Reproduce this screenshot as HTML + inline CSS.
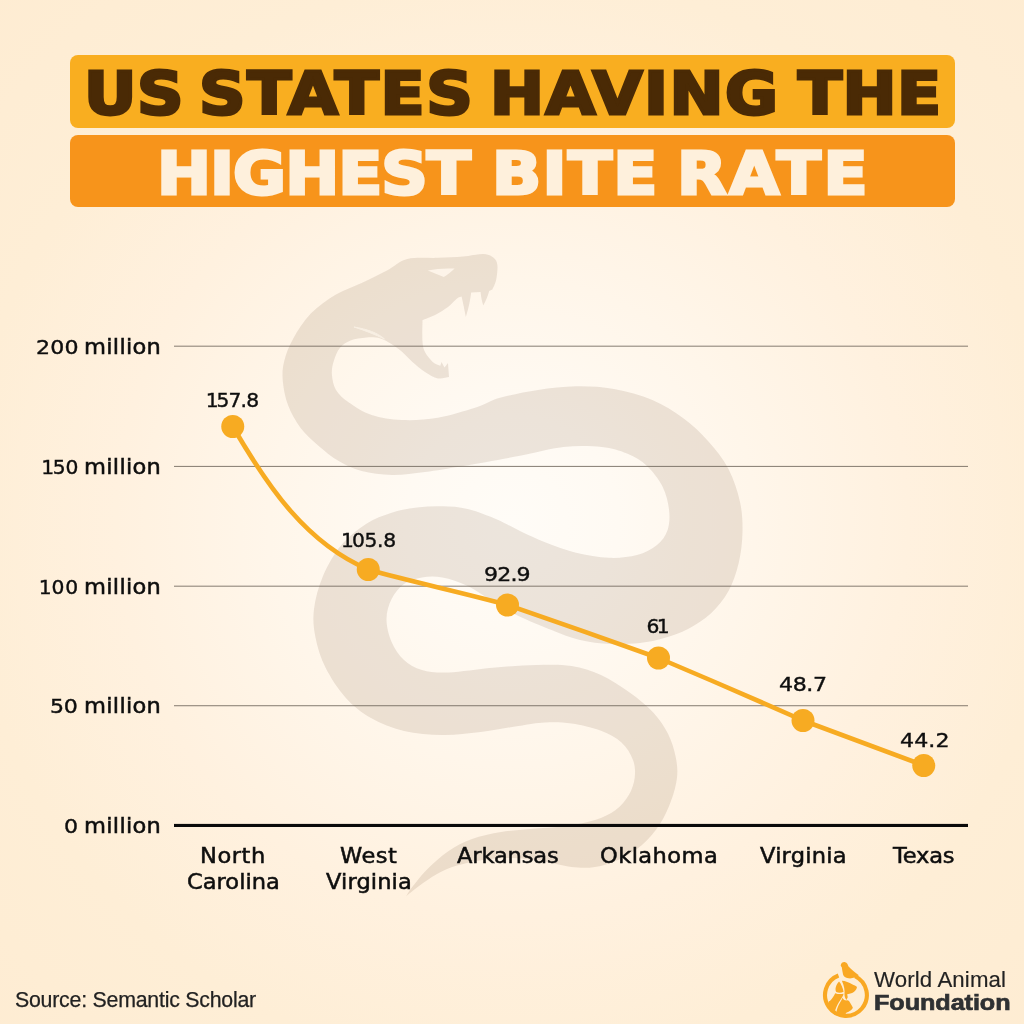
<!DOCTYPE html><html lang="en"><head><meta charset="utf-8"><title>US States Having the Highest Bite Rate</title><style>
*{margin:0;padding:0;box-sizing:border-box}
html,body{width:1024px;height:1024px;overflow:hidden}
body{background:#feeed6;font-family:"DejaVu Sans","Liberation Sans",sans-serif;color:#0e0e0e}
.page{position:relative;width:1024px;height:1024px;overflow:hidden;
 background:radial-gradient(circle 760px at 50% 51%,#fffcf7 0%,#fffaf3 14%,#fff6ea 32%,#fff1df 52%,#feeed6 72%,#feecd2 100%)}
svg{position:absolute;left:0;top:0}
.t{position:absolute;white-space:nowrap;line-height:40px;font-weight:400;font-size:20.5px;-webkit-text-stroke:.5px}
.w{transform-origin:0 0;transform:scaleX(1.1)}
.n,.n1{font-size:20.3px;-webkit-text-stroke:.4px;transform-origin:0 0}
.n{transform:scaleX(1.09)}
.bar{position:absolute;display:block;left:69.5px;width:885.5px;height:72.7px;border-radius:8px}
.b1{top:55.3px;background:#f9ae20;color:#4a2a05}
.b2{top:134.7px;background:#f7941b;color:#fef0dc}
h1{font-size:59.5px;font-weight:700}
h1 .t{font-size:59.5px;font-weight:700;-webkit-text-stroke:3px;transform-origin:0 0;transform:scaleX(1.085)}
.d1{margin:0 -.07em 0 -.09em}
.lb{font-family:"Liberation Sans","DejaVu Sans",sans-serif}
.src{font-size:21.3px;color:#222;-webkit-text-stroke:.25px}
.lg1{font-size:21.2px;color:#222;-webkit-text-stroke:.15px;transform-origin:0 0;transform:scaleX(1.05)}
.lg2{font-size:22.5px;font-weight:700;color:#2f3133;-webkit-text-stroke:.7px;transform-origin:0 0;transform:scaleX(1.12)}
</style></head><body><div class="page">
<svg width="1024" height="1024" viewBox="0 0 1024 1024"><path d="M492.3 289.5 C492.9 288.0 495.1 284.6 496.0 280.6 C496.9 276.6 497.8 269.2 497.4 265.4 C497.0 261.6 495.9 259.7 493.6 257.8 C491.3 255.9 488.6 254.2 483.5 254.0 C478.4 253.8 470.6 255.9 463.0 256.5 C455.4 257.1 447.0 257.4 437.7 257.8 C428.4 258.2 415.8 256.9 407.3 259.0 C398.9 261.1 394.6 266.5 387.0 270.5 C379.4 274.5 370.1 279.0 361.6 283.0 C353.1 287.0 344.5 289.5 336.0 294.6 C327.5 299.7 318.0 306.2 310.8 313.6 C303.6 321.0 297.5 330.9 293.0 339.0 C288.5 347.1 285.7 354.8 284.0 362.0 C282.3 369.2 282.2 374.8 282.9 382.0 C283.6 389.2 285.1 397.3 288.0 405.0 C290.9 412.7 295.5 421.2 300.6 428.0 C305.7 434.8 312.0 440.2 318.4 445.7 C324.8 451.2 331.5 456.8 338.7 461.0 C345.9 465.2 352.7 468.7 361.6 471.0 C370.5 473.3 381.4 474.8 392.0 475.0 C402.6 475.2 413.2 473.5 425.0 472.0 C436.8 470.5 447.2 468.7 463.0 466.0 C478.8 463.3 503.2 459.0 520.0 455.8 C536.8 452.6 549.9 448.5 563.5 447.0 C577.1 445.5 591.0 445.9 601.6 447.0 C612.2 448.1 619.4 450.4 627.0 453.6 C634.6 456.8 641.1 460.5 647.0 466.0 C652.9 471.5 658.8 479.4 662.5 486.6 C666.2 493.9 668.1 502.3 669.0 509.5 C669.9 516.7 669.6 524.1 667.6 530.0 C665.6 535.9 662.1 540.8 657.0 545.0 C651.9 549.2 645.0 552.9 637.0 555.0 C629.0 557.1 619.2 558.2 609.0 557.8 C598.8 557.4 586.5 555.2 576.0 552.7 C565.5 550.2 555.0 546.1 545.7 542.5 C536.4 538.9 528.1 534.8 520.0 531.0 C511.9 527.2 505.7 523.2 497.0 519.5 C488.3 515.8 476.9 511.2 467.8 509.0 C458.7 506.8 450.9 506.5 442.4 506.3 C433.9 506.1 425.5 506.5 417.0 507.6 C408.5 508.7 400.1 510.0 391.6 512.7 C383.1 515.4 374.5 518.5 366.0 524.0 C357.5 529.5 348.0 537.0 340.8 545.7 C333.6 554.4 327.5 565.5 323.0 576.0 C318.5 586.5 315.3 598.8 314.0 609.0 C312.7 619.2 313.5 627.2 315.4 637.0 C317.3 646.8 320.4 657.4 325.5 667.6 C330.6 677.8 338.3 689.6 345.9 698.0 C353.5 706.4 361.3 712.5 371.0 718.0 C380.7 723.5 392.1 728.2 404.0 731.0 C415.9 733.8 429.6 734.8 442.4 735.0 C455.1 735.2 467.8 733.5 480.5 732.0 C493.2 730.5 507.8 727.6 518.5 726.0 C529.2 724.4 536.1 722.9 545.0 722.5 C553.9 722.1 562.3 722.1 571.6 723.5 C580.9 724.9 592.7 727.6 601.0 730.8 C609.3 734.0 616.2 737.6 621.5 742.5 C626.8 747.4 630.8 754.1 633.0 760.0 C635.2 765.9 635.4 771.9 634.7 777.7 C634.0 783.5 632.0 789.6 628.8 795.0 C625.6 800.4 621.2 805.8 615.6 810.0 C610.0 814.2 603.3 817.3 595.0 820.0 C586.7 822.7 576.5 824.5 565.8 826.0 C555.1 827.5 541.4 828.0 530.6 829.0 C519.8 830.0 510.8 830.3 501.0 832.0 C491.2 833.7 480.7 835.8 472.0 839.0 C463.3 842.2 455.9 846.1 448.6 851.0 C441.3 855.9 433.9 862.7 428.0 868.5 C422.1 874.3 416.7 881.4 413.0 886.0 C409.3 890.6 407.2 894.7 406.0 896.4 C408.2 894.7 413.8 889.7 419.0 886.0 C424.2 882.3 430.7 877.4 437.0 874.0 C443.3 870.6 449.2 868.0 457.0 865.6 C464.8 863.2 474.5 861.0 483.8 859.7 C493.1 858.4 503.3 857.8 513.0 858.0 C522.7 858.2 532.2 859.5 542.0 861.0 C551.8 862.5 562.8 866.0 571.6 867.0 C580.4 868.0 587.2 868.2 595.0 867.0 C602.8 865.8 610.7 863.4 618.5 859.7 C626.3 856.0 635.1 850.9 642.0 845.0 C648.9 839.1 654.8 831.9 659.6 824.6 C664.4 817.3 668.1 808.8 671.0 801.0 C673.9 793.2 676.2 785.0 677.0 777.7 C677.8 770.4 677.2 764.3 675.7 757.0 C674.2 749.7 671.7 741.1 668.0 733.8 C664.3 726.5 660.0 719.9 653.7 713.0 C647.4 706.1 638.8 699.0 630.0 692.7 C621.2 686.4 610.7 679.5 601.0 675.0 C591.3 670.5 582.4 667.7 571.6 666.0 C560.9 664.3 549.7 664.7 536.5 665.0 C523.3 665.3 507.1 666.5 492.5 667.8 C477.9 669.0 460.4 672.1 448.6 672.5 C436.9 672.9 429.4 672.1 422.0 670.0 C414.6 667.9 409.1 664.7 404.0 660.0 C398.9 655.3 394.5 648.8 391.6 642.0 C388.7 635.2 386.5 626.2 386.5 619.0 C386.5 611.8 388.7 604.8 391.6 599.0 C394.5 593.2 398.9 587.6 404.0 584.0 C409.1 580.4 415.6 578.6 422.0 577.5 C428.4 576.4 434.8 576.1 442.4 577.5 C450.0 578.9 459.4 582.0 467.8 586.0 C476.2 590.0 484.6 596.6 493.0 601.6 C501.4 606.6 508.8 611.3 518.5 616.0 C528.2 620.7 541.2 626.0 551.5 630.0 C561.8 634.0 570.2 637.7 580.0 640.0 C589.8 642.3 600.0 643.5 610.0 644.0 C620.0 644.5 630.8 644.0 640.0 643.0 C649.2 642.0 657.0 640.0 665.0 637.7 C673.0 635.4 680.4 633.0 688.0 629.0 C695.6 625.0 704.0 619.9 710.8 613.6 C717.5 607.3 723.9 599.4 728.5 591.0 C733.1 582.6 736.4 572.8 738.7 563.0 C741.0 553.2 742.3 542.2 742.5 532.0 C742.7 521.8 742.3 512.5 740.0 502.0 C737.7 491.5 733.8 479.2 728.5 469.0 C723.2 458.8 715.6 449.5 708.0 441.0 C700.4 432.5 692.3 424.8 683.0 418.0 C673.7 411.2 663.9 404.8 652.4 400.0 C640.9 395.2 626.7 391.3 614.0 389.0 C601.3 386.7 588.7 386.1 576.0 386.3 C563.3 386.5 550.7 388.1 538.0 390.0 C525.3 391.9 510.4 394.9 500.0 397.8 C489.6 400.7 486.2 404.3 475.8 407.6 C465.4 410.9 450.1 415.7 437.8 417.8 C425.5 419.9 413.0 420.5 402.0 420.0 C391.0 419.5 380.6 417.9 371.7 415.0 C362.8 412.1 354.8 406.7 348.9 402.5 C342.9 398.3 338.8 394.6 336.0 390.0 C333.2 385.4 332.3 379.4 331.9 374.6 C331.5 369.8 332.4 365.5 333.8 361.0 C335.2 356.5 337.2 351.2 340.0 347.8 C342.8 344.4 346.1 342.2 350.5 340.5 C354.9 338.8 361.4 337.9 366.4 337.5 C371.4 337.1 376.3 337.4 380.4 338.4 C384.5 339.4 387.4 341.5 391.0 343.7 C394.6 345.9 398.4 348.7 402.0 351.7 C405.6 354.7 408.6 358.5 412.4 361.9 C416.2 365.3 420.8 369.2 425.0 372.0 C429.2 374.8 433.8 377.6 437.8 378.4 C441.8 379.2 447.1 377.2 449.0 377.0 L448 363 L444.5 367.5 L441.5 362 L440.3 365.7 C439.0 365.1 435.2 364.2 432.7 361.9 C430.1 359.6 426.7 355.4 425.0 352.0 C423.3 348.6 422.9 346.9 422.5 341.6 C422.1 336.3 422.5 323.6 422.5 320.0 C424.6 319.2 430.8 317.2 435.0 315.0 C439.2 312.8 444.3 309.8 448.0 307.0 C451.7 304.2 454.7 300.3 457.0 298.5 C459.3 296.7 460.8 296.8 461.6 296.4 C463.2 303 464.5 310 465.8 317 C468.5 309 470.3 300 471.2 292.6 L480.6 292 C481 297 482 301.5 483.3 305.6 C485.8 301 487.8 296 489.2 291 Z" fill="#4a2a04" fill-opacity="0.105"/><path d="M427.8 270.6 C436 268.6 446 268 454.6 268.6 C451 272 447.5 275 443.8 277 C438.5 275 433 272.6 427.8 270.6Z" fill="#fdf4e9"/><path d="M354 327 C367 329 378 333 384.5 339 C375 334.5 365 330.5 354 327Z" fill="#f8efe3" stroke="#f8efe3" stroke-width="1"/><rect x="174" y="345.65" width="794" height="1.1" fill="#6b6257" fill-opacity="0.75"/><rect x="174" y="465.90" width="794" height="1.1" fill="#6b6257" fill-opacity="0.75"/><rect x="174" y="585.65" width="794" height="1.1" fill="#6b6257" fill-opacity="0.75"/><rect x="174" y="705.15" width="794" height="1.1" fill="#6b6257" fill-opacity="0.75"/><rect x="174" y="823.9" width="794" height="3.1" fill="#0a0a0a"/><path d="M232.8 426.5 C 268.5 488, 306.8 543.5, 368.2 569.5 C 410 581.5, 465 593, 507.5 605.0 Q583 631 658.5 658.0 Q730.8 688.6 803.0 720.5 L923.8 765.5" fill="none" stroke="#f7ab22" stroke-width="4.6" stroke-linejoin="round" stroke-linecap="round"/><circle cx="232.75" cy="426.50" r="11.5" fill="#f7ab22"/><circle cx="368.25" cy="569.50" r="11.5" fill="#f7ab22"/><circle cx="507.50" cy="605.00" r="11.5" fill="#f7ab22"/><circle cx="658.50" cy="658.00" r="11.5" fill="#f7ab22"/><circle cx="803.00" cy="720.50" r="11.5" fill="#f7ab22"/><circle cx="923.75" cy="765.50" r="11.5" fill="#f7ab22"/></svg>
<h1 class="title">
<span class="bar b1"><span class="t tw" style="left:14.25px;top:18.70px;letter-spacing:0.46px">US</span> <span class="t tw" style="left:129.38px;top:18.70px;letter-spacing:1.61px">STATES</span> <span class="t tw" style="left:420.38px;top:18.70px;letter-spacing:1.34px">HAVING</span> <span class="t tw" style="left:728.50px;top:18.70px;letter-spacing:0.46px">THE</span></span>
<span class="bar b2"><span class="t tw" style="left:87.10px;top:19.30px;letter-spacing:-0.89px">HIGHEST</span> <span class="t tw" style="left:422.20px;top:19.30px;letter-spacing:1.23px">BITE</span> <span class="t tw" style="left:607.10px;top:19.30px;letter-spacing:2.40px">RATE</span></span>
</h1>
<div class="yaxis">
<div class="ylab"><span class="t n" style="left:35.98px;top:327.00px;letter-spacing:0.21px">200</span> <span class="t w" style="left:84.00px;top:327.00px;letter-spacing:0.27px">million</span></div>
<div class="ylab"><span class="t n1" style="left:43.05px;top:447.00px;letter-spacing:-0.05px"><span class="d1">1</span>50</span> <span class="t w" style="left:84.00px;top:447.00px;letter-spacing:0.27px">million</span></div>
<div class="ylab"><span class="t n1" style="left:40.65px;top:567.00px;letter-spacing:1.05px"><span class="d1">1</span>00</span> <span class="t w" style="left:84.00px;top:567.00px;letter-spacing:0.27px">million</span></div>
<div class="ylab"><span class="t n" style="left:50.12px;top:686.00px;letter-spacing:-0.23px">50</span> <span class="t w" style="left:84.00px;top:686.00px;letter-spacing:0.27px">million</span></div>
<div class="ylab"><span class="t n" style="left:63.60px;top:806.00px;letter-spacing:0.00px">0</span> <span class="t w" style="left:84.00px;top:806.00px;letter-spacing:0.27px">million</span></div>
</div><div class="values">
<div class="t n1" style="left:207.50px;top:380.00px;letter-spacing:-0.80px"><span class="d1">1</span>57.8</div>
<div class="t n1" style="left:342.75px;top:520.00px;letter-spacing:-0.38px"><span class="d1">1</span>05.8</div>
<div class="t n" style="left:484.12px;top:554.00px;letter-spacing:-0.80px">92.9</div>
<div class="t n1" style="left:646.50px;top:606.00px;letter-spacing:-0.80px">6<span class="d1">1</span></div>
<div class="t n" style="left:778.88px;top:664.00px;letter-spacing:-0.38px">48.7</div>
<div class="t n" style="left:899.88px;top:720.00px;letter-spacing:0.08px">44.2</div>
</div><div class="xaxis">
<div class="xlab"><span class="t w" style="left:200.12px;top:836.00px;letter-spacing:0.51px">North</span> <span class="t w" style="left:186.50px;top:862.00px;letter-spacing:0.00px">Carolina</span></div>
<div class="xlab"><span class="t w" style="left:339.50px;top:836.00px;letter-spacing:0.45px">West</span> <span class="t w" style="left:326.12px;top:862.00px;letter-spacing:0.10px">Virginia</span></div>
<div class="xlab"><span class="t w" style="left:456.50px;top:836.00px;letter-spacing:-0.13px">Arkansas</span></div>
<div class="xlab"><span class="t w" style="left:599.50px;top:836.00px;letter-spacing:0.39px">Oklahoma</span></div>
<div class="xlab"><span class="t w" style="left:760.25px;top:836.00px;letter-spacing:0.19px">Virginia</span></div>
<div class="xlab"><span class="t w" style="left:893.38px;top:836.00px;letter-spacing:-0.17px">Texas</span></div>
</div>
<div class="t src lb" style="left:15.00px;top:980.00px;letter-spacing:-0.22px">Source: Semantic Scholar</div>
<svg width="1024" height="1024" viewBox="0 0 1024 1024"><g fill="#f9a823"><path d="M855.12 976.22 A20.90 20.90 0 1 1 838.47 975.49" fill="none" stroke="#f9a823" stroke-width="4.1"/><path d="M840.68 965.54 C841.01 962.96 843.07 961.80 845.13 962.19 C847.06 962.57 847.97 964.38 848.35 966.31 C851.12 969.21 854.67 972.11 858.86 975.33 C855.96 977.78 852.09 978.69 848.22 978.30 C845.52 977.91 843.71 976.62 843.07 974.56 C842.42 971.47 842.10 969.21 841.78 967.34 C841.39 966.70 840.94 966.18 840.68 965.54 Z"/><path d="M841.91 980.75 C845.13 980.88 849.51 982.42 852.09 984.36 C854.02 985.39 856.09 986.03 856.99 987.06 C856.60 989.64 854.67 992.09 852.09 993.12 C850.29 993.77 848.61 994.02 847.19 994.15 L847.71 997.25 L846.55 1000.08 C845.13 998.02 844.49 996.09 844.49 994.15 C844.87 990.80 844.36 986.29 841.91 980.75 Z"/><path d="M839.07 981.52 C841.13 983.84 842.94 988.22 843.58 991.83 C841.65 992.86 838.56 993.12 836.24 992.09 C834.56 989.51 835.98 984.36 839.07 981.52 Z"/><path d="M835.21 993.25 C837.91 994.28 841.01 994.28 843.58 993.64 C843.07 996.09 841.65 998.02 840.36 999.95 C838.30 1003.05 836.49 1006.27 835.08 1010.52 C835.33 1012.71 835.98 1014.00 837.27 1015.61 C833.40 1014.00 829.86 1010.14 828.57 1002.40 C828.89 1001.11 829.21 1001.11 829.86 1001.11 C832.11 998.53 834.05 995.96 835.21 993.25 Z"/><path d="M842.42 997.76 C843.58 999.82 844.87 1000.47 846.29 1000.47 C847.58 1000.08 848.22 1000.47 849.00 1001.11 C850.80 1003.69 852.09 1006.27 852.86 1007.69 C852.09 1009.62 849.64 1011.42 846.29 1012.71 C845.65 1013.36 845.32 1014.00 846.29 1015.61 C843.07 1016.26 839.85 1015.94 837.27 1014.32 C836.49 1012.71 836.49 1011.42 836.75 1010.14 C837.65 1006.91 839.20 1003.69 841.26 1000.47 C841.78 999.57 842.17 998.79 842.42 997.76 Z"/></g></svg>
<div class="logo"><div class="t lg1 lb" style="left:873.90px;top:960.00px;letter-spacing:0.12px">World Animal</div><div class="t lg2 lb" style="left:874.40px;top:983.00px;letter-spacing:-0.06px">Foundation</div></div>
</div></body></html>
